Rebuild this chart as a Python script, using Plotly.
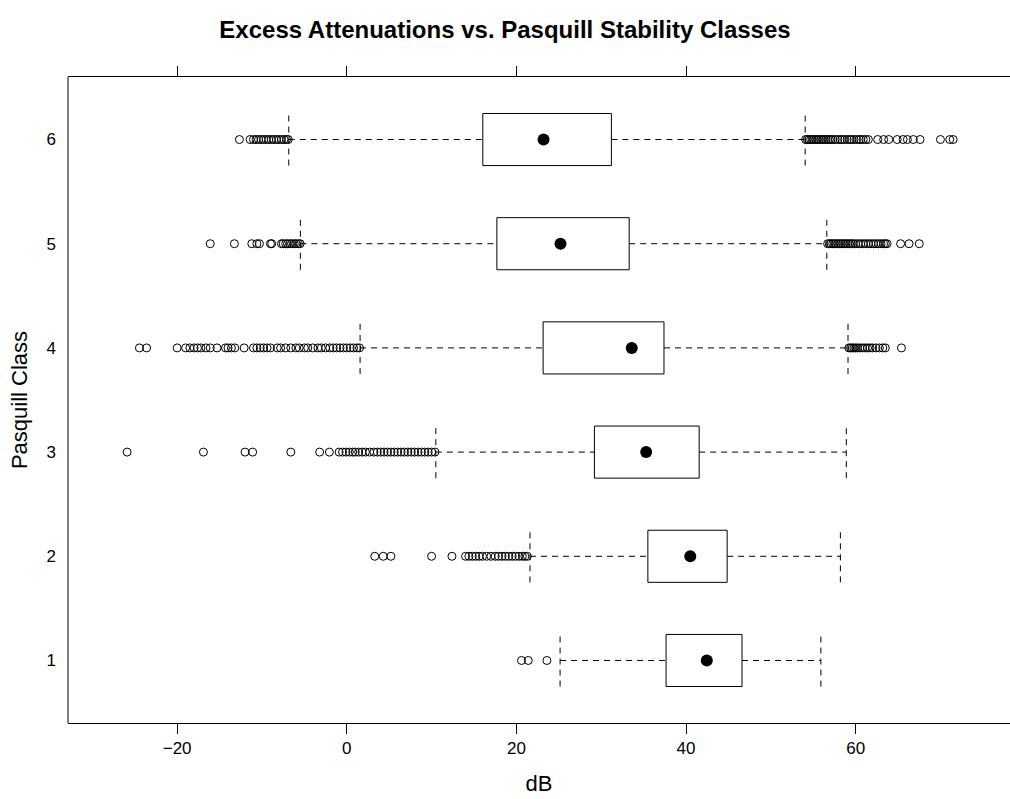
import plotly.graph_objects as go

classes = [1, 2, 3, 4, 5, 6]
q1 = [37.65, 35.5, 29.2, 23.15, 17.7, 16.04]
median = [42.45, 40.5, 35.3, 33.6, 25.2, 23.2]
q3 = [46.6, 44.85, 41.55, 37.4, 33.3, 31.2]
lower_whisker = [25.15, 21.6, 10.5, 1.57, -5.47, -6.84]
upper_whisker = [55.9, 58.2, 58.9, 59.1, 56.6, 54.05]

outliers_1 = [20.6, 21.4, 23.6]
outliers_2 = [3.3, 4.3, 5.2, 10.0, 12.4, 14.0, 14.4, 14.8, 15.2, 15.6, 16.0, 16.5,
              17.0, 17.5, 17.9, 18.3, 18.7, 19.1, 19.5, 19.9, 20.3, 20.7, 21.0, 21.3]
outliers_3 = [-25.9, -16.9, -12.0, -11.1, -6.6, -3.2, -2.05, -0.9, -0.5, -0.1, 0.3,
              0.7, 1.0, 1.4, 1.8, 2.2, 2.7, 3.2, 3.6, 4.0, 4.4, 4.8, 5.2, 5.6, 6.0,
              6.4, 6.8, 7.2, 7.6, 8.0, 8.4, 8.8, 9.2, 9.6, 10.0, 10.4]
outliers_4 = [-24.45, -23.6, -20.0, -19.0, -18.5, -18.0, -17.6, -17.2, -16.6, -16.1,
              -15.3, -14.3, -14.0, -13.6, -13.2, -12.1, -11.0, -10.6, -10.2, -9.8,
              -9.4, -9.0, -8.2, -7.8, -7.2, -6.6, -6.0, -5.6, -5.0, -4.6, -4.0, -3.4,
              -3.0, -2.5, -2.0, -1.6, -1.2, -0.8, -0.4, 0.0, 0.4, 0.8, 1.2, 1.5,
              59.2, 59.4, 59.6, 59.8, 60.0, 60.2, 60.5, 60.8, 61.1, 61.4, 61.7, 62.0,
              62.4, 62.8, 63.2, 63.5, 65.4]
outliers_5 = [-16.1, -13.25, -11.2, -10.6, -10.3, -9.0, -8.85, -7.7, -7.5, -7.2, -7.0,
              -6.7, -6.5, -6.2, -6.0, -5.7, -5.5,
              56.7, 56.9, 57.1, 57.3, 57.5, 57.7, 57.9, 58.1, 58.3, 58.5, 58.7, 58.9,
              59.1, 59.3, 59.5, 59.7, 60.0, 60.3, 60.6, 60.9, 61.2, 61.5, 61.8, 62.1,
              62.4, 62.7, 63.0, 63.3, 63.5, 63.7, 65.3, 66.3, 67.5]
outliers_6 = [-12.66, -11.4, -11.0, -10.7, -10.4, -10.1, -9.8, -9.5, -9.2, -8.9, -8.6,
              -8.3, -8.0, -7.7, -7.4, -7.1, -6.9,
              54.1, 54.3, 54.5, 54.7, 54.9, 55.1, 55.3, 55.5, 55.7, 55.9, 56.1, 56.3,
              56.5, 56.7, 56.9, 57.1, 57.3, 57.6, 57.9, 58.2, 58.4, 58.7, 59.0, 59.3,
              59.5, 59.8, 60.1, 60.4, 60.6, 60.9, 61.2, 61.5, 62.6, 63.3, 63.9, 64.9,
              65.6, 66.1, 66.8, 67.6, 70.0, 71.1, 71.5]
outliers = [outliers_1, outliers_2, outliers_3, outliers_4, outliers_5, outliers_6]

x_ticks = [-20, 0, 20, 40, 60]
title = "Excess Attenuations vs. Pasquill Stability Classes"
x_label = "dB"
y_label = "Pasquill Class"

half = 0.25
FONT = "Liberation Sans, Arial, Helvetica, sans-serif"

# whiskers (dashed)
wx, wy = [], []
for c, a, b, lo, hi in zip(classes, q1, q3, lower_whisker, upper_whisker):
    wx += [lo, a, None, b, hi, None, lo, lo, None, hi, hi, None]
    wy += [c, c, None, c, c, None, c - half, c + half, None, c - half, c + half, None]

# boxes
bx, by = [], []
for c, a, b in zip(classes, q1, q3):
    bx += [a, b, b, a, a, None]
    by += [c - half, c - half, c + half, c + half, c - half, None]

ox, oy = [], []
for c, vals in zip(classes, outliers):
    ox += vals
    oy += [c] * len(vals)

fig = go.Figure()
fig.add_trace(go.Scatter(x=wx, y=wy, mode="lines", hoverinfo="skip",
                         line=dict(color="black", width=1, dash="6px,5px")))
fig.add_trace(go.Scatter(x=bx, y=by, mode="lines", fill="toself", fillcolor="white",
                         hoverinfo="skip", line=dict(color="black", width=1)))
fig.add_trace(go.Scatter(x=ox, y=oy, mode="markers",
                         marker=dict(symbol="circle-open", size=8, color="black",
                                     line=dict(width=1, color="black"))))
fig.add_trace(go.Scatter(x=median, y=classes, mode="markers",
                         marker=dict(symbol="circle", size=12, color="black")))

fig.update_layout(
    width=1010, height=799,
    margin=dict(l=68, r=0, t=77, b=76),
    plot_bgcolor="white", paper_bgcolor="white",
    showlegend=False,
    font=dict(family=FONT, color="black", size=17),
    title=dict(text="<b>" + title + "</b>", x=0.5, xanchor="center",
               y=1 - 30 / 799, yanchor="middle",
               font=dict(family=FONT, size=24, color="black")),
    shapes=[dict(type="line", xref="paper", yref="paper", x0=0, x1=0, y0=0, y1=1,
                 line=dict(color="black", width=1))],
)
fig.update_xaxes(range=[-32.87, 78.2], tickvals=x_ticks,
                 ticktext=[("\u2212" + str(-v)) if v < 0 else str(v) for v in x_ticks],
                 ticks="outside", ticklen=10, tickwidth=1, tickcolor="black",
                 showline=True, linecolor="black", linewidth=1, mirror="allticks",
                 showgrid=False, zeroline=False,
                 title=dict(text=x_label, font=dict(size=22), standoff=18),
                 tickfont=dict(size=17))
fig.update_yaxes(range=[0.4, 6.6], tickvals=classes, ticktext=[str(c) for c in classes],
                 ticks="", showline=False, mirror=False,
                 showgrid=False, zeroline=False, ticklabelstandoff=11,
                 title=dict(text=y_label, font=dict(size=22), standoff=12),
                 tickfont=dict(size=17))

fig.write_html("out.html")
